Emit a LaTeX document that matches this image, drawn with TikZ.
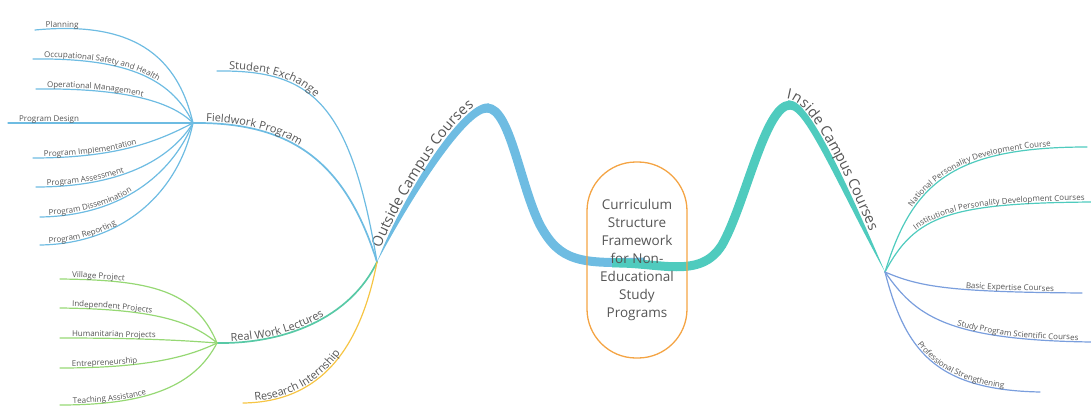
\documentclass[tikz,border=0pt]{standalone}
\usepackage{fontspec}
\setmainfont{Open Sans}
\usetikzlibrary{decorations.text}
\definecolor{skyline}{HTML}{6EBCE2}
\definecolor{tealline}{HTML}{4FCBBE}
\definecolor{blueline}{HTML}{7A9EDD}
\definecolor{grassline}{HTML}{96D874}
\definecolor{sunline}{HTML}{F6C544}
\definecolor{mintline}{HTML}{58C9A6}
\definecolor{ringline}{HTML}{F4A444}
\definecolor{inkgray}{HTML}{555555}
\newcommand{\leaffont}{\fontsize{8}{9}\selectfont\color{inkgray}}
\newcommand{\branchfont}{\fontsize{11}{13}\selectfont\color{inkgray}}
\newcommand{\trunkfont}{\fontsize{14.5}{17}\selectfont\color{inkgray}}
\tikzset{
    %Define style for the central box
    core/.style={
           rectangle,
           rounded corners=49pt,
           draw=ringline, line width=1.3pt,
           minimum width=100pt,
           minimum height=196pt,
           font=\fontsize{13.5}{18}\selectfont,
           text=inkgray,
           align=center},
    %Define style for the thick main branches
    trunk/.style={
           line width=9pt,
           line cap=butt},
    %Define styles for the thin branches
    twig/.style={
           line width=1.2pt,
           line cap=round},
    limb/.style={
           line width=1.7pt,
           line cap=round},
    %Define styles for the texts along the branches
    leaf/.style 2 args={
           postaction={decorate, decoration={text along path,
           raise=1.5pt, text align={left indent=#1},
           text={|\leaffont|#2}}}},
    bough/.style 2 args={
           postaction={decorate, decoration={text along path,
           raise=1.5pt, text align={left indent=#1},
           text={|\branchfont|#2}}}},
    crown/.style 2 args={
           decorate, decoration={text along path,
           raise=2pt, text align={left indent=#1},
           text={|\trunkfont|#2}}}
}
\begin{document}
\begin{tikzpicture}[x=1pt,y=-1pt]
\useasboundingbox (0,0) rectangle (1091,406);
% hubs
\coordinate (oc) at (377,262);
\coordinate (ic) at (885,272);
\coordinate (fw) at (193,123);
\coordinate (rw) at (217,343);
\coordinate (ocpeak) at (487,108);
\coordinate (icpeak) at (790,105);
% free ends
\coordinate (plan) at (35,30);
\coordinate (safe) at (33,59);
\coordinate (oper) at (36,89);
\coordinate (desg) at (8,123);
\coordinate (impl) at (33,158);
\coordinate (asse) at (36,187);
\coordinate (diss) at (40,217);
\coordinate (repo) at (40,245);
\coordinate (exch) at (217,71);
\coordinate (vill) at (60,279);
\coordinate (inde) at (60,308);
\coordinate (huma) at (60,338);
\coordinate (entr) at (60,368);
\coordinate (teac) at (60,405);
\coordinate (rese) at (243,403);
\coordinate (nati) at (1087,147);
\coordinate (inst) at (1093,202);
\coordinate (basi) at (1082,293);
\coordinate (stud) at (1091,342);
\coordinate (prof) at (1040,392);
% main branches
\draw[trunk, skyline] (645,262) .. controls (580,264) and (560,262) .. (540,225)
      .. controls (520,185) and (510,108) .. (ocpeak);
\fill[skyline] (489,103.5) -- (487,103.5) .. controls (463,103.5) and (406,188) .. (oc)
      .. controls (414,192) and (467,112.5) .. (487,112.5) -- (489,112.5) -- cycle;
\draw[trunk, tealline] (612,263) .. controls (660,262) and (700,280) .. (722,245)
      .. controls (745,205) and (765,105) .. (icpeak);
\fill[tealline] (788,100.5) -- (790,100.5) .. controls (810,100.5) and (849,188) .. (ic)
      .. controls (841,192) and (806,109.5) .. (790,109.5) -- (788,109.5) -- cycle;
\path[crown={14pt}{Outside Campus Courses}]
      (oc) .. controls (406,188) and (463,103.5) .. (487,103.5) -- (500,103.5);
\path[crown={2pt}{Inside Campus Courses}]
      (784,101) .. controls (812,99) and (849,188) .. (ic);
% outside campus courses
\draw[limb, skyline, bough={13pt}{Fieldwork Program}] (fw) .. controls (290,122) and (345,160) .. (oc);
\draw[twig, skyline, bough={12pt}{Student Exchange}] (exch) .. controls (310,70) and (350,100) .. (oc);
\draw[limb, mintline, bough={14pt}{Real Work Lectures}] (rw) .. controls (285,344) and (350,318) .. (oc);
\draw[twig, sunline, bough={12pt}{Research Internship}] (rese) .. controls (320,402) and (360,350) .. (oc);
% fieldwork program
\draw[twig, skyline, leaf={11pt}{Planning}] (plan) .. controls (120,22) and (175,45) .. (fw);
\draw[twig, skyline, leaf={11pt}{Occupational Safety and Health}] (safe) .. controls (120,58) and (170,75) .. (fw);
\draw[twig, skyline, leaf={11pt}{Operational Management}] (oper) .. controls (120,88) and (170,100) .. (fw);
\draw[twig, skyline, leaf={11pt}{Program Design}] (desg) -- (fw);
\draw[twig, skyline, leaf={11pt}{Program Implementation}] (impl) .. controls (120,158) and (160,140) .. (fw);
\draw[twig, skyline, leaf={11pt}{Program Assessment}] (asse) .. controls (120,187) and (170,160) .. (fw);
\draw[twig, skyline, leaf={9pt}{Program Dissemination}] (diss) .. controls (120,216) and (172,175) .. (fw);
\draw[twig, skyline, leaf={9pt}{Program Reporting}] (repo) .. controls (120,244) and (178,195) .. (fw);
% real work lectures
\draw[twig, grassline, leaf={12pt}{Village Project}] (vill) .. controls (150,280) and (195,290) .. (rw);
\draw[twig, grassline, leaf={12pt}{Independent Projects}] (inde) .. controls (150,309) and (190,320) .. (rw);
\draw[twig, grassline, leaf={12pt}{Humanitarian Projects}] (huma) .. controls (150,338) and (190,341) .. (rw);
\draw[twig, grassline, leaf={12pt}{Entrepreneurship}] (entr) .. controls (150,368) and (190,356) .. (rw);
\draw[twig, grassline, leaf={13pt}{Teaching Assistance}] (teac) .. controls (150,405) and (195,385) .. (rw);
% inside campus courses
\draw[twig, tealline, leaf={70pt}{National Personality Development Course}] (ic) .. controls (912,185) and (950,147) .. (nati);
\draw[twig, tealline, leaf={52pt}{Institutional Personality Development Courses}] (ic) .. controls (915,215) and (950,203) .. (inst);
\draw[twig, blueline, leaf={83pt}{Basic Expertise Courses}] (ic) .. controls (920,287) and (950,292) .. (basi);
\draw[twig, blueline, leaf={92pt}{Study Program Scientific Courses}] (ic) .. controls (915,315) and (945,340) .. (stud);
\draw[twig, blueline, leaf={80pt}{Professional Strengthening}] (ic) .. controls (905,350) and (935,390) .. (prof);
% centre
\node[core] (frame) at (637,260) {Curriculum\\Structure\\Framework\\for Non-\\Educational\\Study\\Programs};
\end{tikzpicture}
\end{document}
